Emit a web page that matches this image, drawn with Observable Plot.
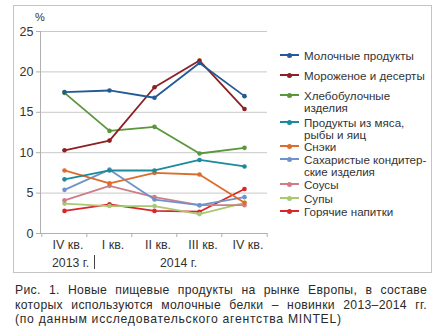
<!DOCTYPE html>
<html><head><meta charset="utf-8">
<script src="https://cdn.jsdelivr.net/npm/d3@7"></script>
<script src="https://cdn.jsdelivr.net/npm/@observablehq/plot@0.6"></script>
<style>
  html,body{margin:0;padding:0;background:#fff;}
  #wrap{position:relative;width:436px;height:332px;font-family:"Liberation Sans",Arial,sans-serif;color:#333;overflow:hidden;}
  #frame{position:absolute;left:13px;top:5px;width:419px;height:268px;border:1px solid #c4c4c4;box-sizing:border-box;}
  #chart{position:absolute;left:0;top:0;}
  .abs{position:absolute;white-space:nowrap;}
  #legend{position:absolute;left:280px;top:0;font-size:11.6px;color:#333;}
  .li{position:absolute;left:0;white-space:nowrap;}
  .sym{position:absolute;left:0;width:19px;height:2px;}
  .sym i{position:absolute;left:7px;top:-1.5px;width:5px;height:5px;border-radius:50%;}
  .lt{position:absolute;left:24px;line-height:12px;}
  #caption{position:absolute;left:15px;top:283px;width:412px;font-size:12.2px;line-height:14.7px;color:#2a2a2a;letter-spacing:0.72px;}
  #caption div{white-space:nowrap;}
  #caption div.j{white-space:normal;text-align:justify;text-align-last:justify;letter-spacing:0.3px;}
</style>
</head><body>
<div id="wrap">
  <div id="frame"></div>
  <div id="chart"></div>
  <div class="abs" style="left:35px;top:11px;font-size:11px;">%</div>
  <div class="abs" style="left:52px;top:256px;font-size:12.3px;">2013 г.</div>
  <div class="abs" style="left:94px;top:255px;width:1px;height:14px;background:#444;"></div>
  <div class="abs" style="left:160px;top:256px;font-size:12.3px;">2014 г.</div>
  <div id="legend"></div>
  <div id="caption"></div>
</div>
<script>
const quarters = ["2013-Q4","2014-Q1","2014-Q2","2014-Q3","2014-Q4"];
const quarterLabels = ["IV кв.","I кв.","II кв.","III кв.","IV кв."];
const yTicks = [0,5,10,15,20,25];
const captionLines = [
  "Рис. 1. Новые пищевые продукты на рынке Европы, в составе",
  "которых используются молочные белки – новинки 2013–2014 гг.",
  "(по данным исследовательского агентства MINTEL)"
];

const seriesNames = [
  "Молочные продукты",
  "Мороженое и десерты",
  "Хлебобулочные изделия",
  "Продукты из мяса, рыбы и яиц",
  "Снэки",
  "Сахаристые кондитерские изделия",
  "Соусы",
  "Супы",
  "Горячие напитки"
];
const legendLines = [
  ["Молочные продукты"],
  ["Мороженое и десерты"],
  ["Хлебобулочные","изделия"],
  ["Продукты из мяса,","рыбы и яиц"],
  ["Снэки"],
  ["Сахаристые кондитер-","ские изделия"],
  ["Соусы"],
  ["Супы"],
  ["Горячие напитки"]
];
const seriesColors = ["#235a96","#8e1f22","#5a963a","#1b8a9c","#dc6d2c","#6e93cc","#cc7f86","#a9c873","#d9262a"];

const dairy         = [17.5, 17.7, 16.8, 21.1, 17.0];
const iceCream      = [10.3, 11.5, 18.1, 21.4, 15.4];
const bakery        = [17.4, 12.7, 13.2,  9.9, 10.6];
const meatFishEggs  = [ 6.7,  7.8,  7.8,  9.1,  8.3];
const snacks        = [ 7.8,  6.2,  7.5,  7.3,  3.8];
const confectionery = [ 5.4,  7.9,  4.2,  3.5,  4.5];
const sauces        = [ 4.1,  5.9,  4.5,  3.5,  3.5];
const soups         = [ 3.7,  3.4,  3.4,  2.4,  3.8];
const hotDrinks     = [ 2.8,  3.6,  2.8,  2.7,  5.5];

const allSeries = [dairy, iceCream, bakery, meatFishEggs, snacks, confectionery, sauces, soups, hotDrinks];
const rows = [];
allSeries.forEach((vals, si) => vals.forEach((v, qi) => rows.push({series: seriesNames[si], q: quarters[qi], value: v})));
const drawOrder = rows.slice().reverse();

const step = 227 / 5;
const chart = Plot.plot({
  width: 436, height: 275,
  marginLeft: 40, marginRight: 169, marginTop: 31, marginBottom: 42,
  style: {fontFamily: '"Liberation Sans", Arial, sans-serif', fontSize: "12px", color: "#333", background: "transparent"},
  x: {type: "point", domain: quarters, padding: 0.5},
  y: {domain: [0, 25]},
  color: {domain: seriesNames, range: seriesColors},
  marks: [
    Plot.ruleY([5,10,15,20,25], {stroke: "#c9c9c9", strokeWidth: 1}),
    Plot.ruleY([0], {stroke: "#b0b0b0", strokeWidth: 1}),
    Plot.ruleX(quarters, {x: d => d, dx: -step/2, y1: 0, y2: 0, insetBottom: -4, stroke: "#b0b0b0"}),
    Plot.ruleX([quarters[quarters.length-1]], {x: d => d, dx: step/2, y1: 0, y2: 0, insetBottom: -4, stroke: "#b0b0b0"}),
    Plot.axisY({ticks: yTicks, tickSize: 4, tickPadding: 3, label: null, stroke: "#b0b0b0", fill: "#333", fontSize: 12.5}),
    Plot.axisX({tickSize: 0, tickPadding: 7, label: null, tickFormat: (d) => quarterLabels[quarters.indexOf(d)], dx: 3.5, fill: "#333", fontSize: 12.5}),
    Plot.frame({anchor: "left", stroke: "#b0b0b0"}),
    Plot.line(drawOrder, {x: "q", y: "value", stroke: "series", z: "series", strokeWidth: 1.8}),
    Plot.dot(drawOrder, {x: "q", y: "value", fill: "series", r: 2.3})
  ]
});
document.getElementById("chart").appendChild(chart);

// caption
const cap = document.getElementById("caption");
captionLines.forEach((t, i) => {
  const d = document.createElement("div");
  if (i < captionLines.length - 1) d.className = "j";
  d.textContent = t;
  cap.appendChild(d);
});

// legend
const legendTops = [50, 70, 90, 117, 141, 154, 179, 193, 206];
const legend = document.getElementById("legend");
legendLines.forEach((lines, i) => {
  const item = document.createElement("div");
  item.className = "li";
  item.style.top = legendTops[i] + "px";
  const sym = document.createElement("div");
  sym.className = "sym";
  sym.style.background = seriesColors[i];
  sym.style.top = "4px";
  const dot = document.createElement("i");
  dot.style.background = seriesColors[i];
  sym.appendChild(dot);
  const txt = document.createElement("div");
  txt.className = "lt";
  txt.innerHTML = lines.join("<br>");
  item.appendChild(sym);
  item.appendChild(txt);
  legend.appendChild(item);
});
</script>
</body></html>
